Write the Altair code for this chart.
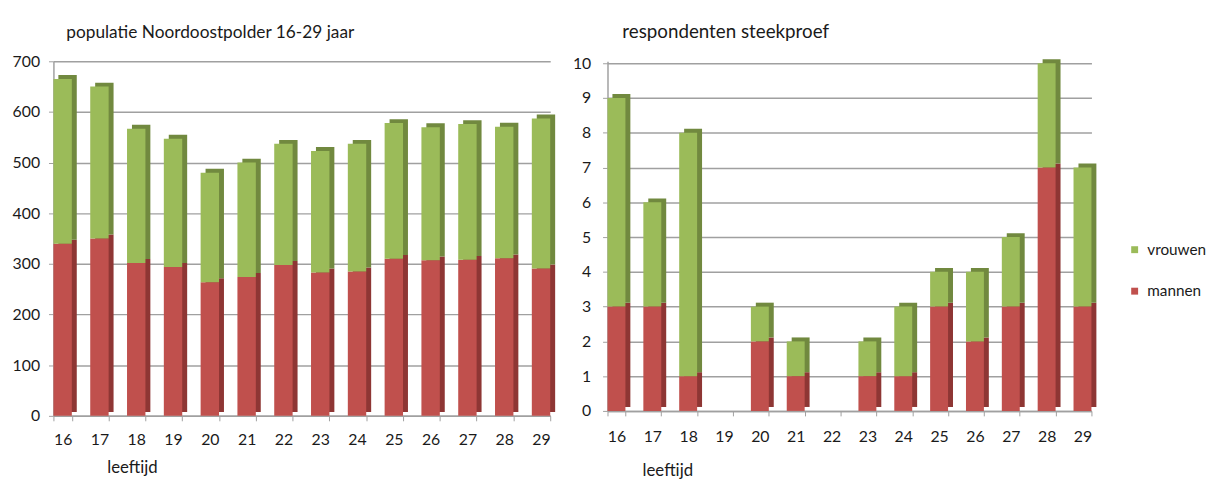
import altair as alt
import pandas as pd

# ---- data ----
leeftijden = ["16", "17", "18", "19", "20", "21", "22", "23", "24", "25", "26", "27", "28", "29"]
series = ["vrouwen", "mannen"]

pop_mannen = [340, 350, 302, 294, 264, 274, 298, 283, 285, 310, 307, 308, 311, 291]
pop_vrouwen = [325, 300, 265, 253, 216, 226, 239, 240, 252, 268, 263, 268, 260, 296]

resp_mannen = [3, 3, 1, 0, 2, 1, 0, 1, 1, 3, 2, 3, 7, 3]
resp_vrouwen = [6, 3, 7, 0, 1, 1, 0, 1, 2, 1, 2, 2, 3, 4]

pop_ticks = [0, 100, 200, 300, 400, 500, 600, 700]
resp_ticks = [0, 1, 2, 3, 4, 5, 6, 7, 8, 9, 10]

GREEN = "#9bbb59"
RED = "#c0504d"
DKGREEN = "#71893f"
DKRED = "#8e3634"
GRID = "#a0a0a0"
TXT = "#1a1a1a"
FONT = "Lato"


def long_df(mannen, vrouwen):
    rows = []
    for a, m, v in zip(leeftijden, mannen, vrouwen):
        rows.append({"leeftijd": a, "geslacht": "mannen", "aantal": m, "volgorde": 0})
        rows.append({"leeftijd": a, "geslacht": "vrouwen", "aantal": v, "volgorde": 1})
    return pd.DataFrame(rows)


def panel(df, ymax, yvals, title, w, h, title_dx, title_offset, title_size,
          ax_title_x, ax_title_y, x_lab_pad, y_lab_pad, y_extent, legend):
    x = alt.X(
        "leeftijd:N",
        sort=leeftijden,
        scale=alt.Scale(paddingInner=0.5, paddingOuter=0),
        axis=alt.Axis(
            labelAngle=0,
            title="leeftijd",
            titleAnchor="start",
            titleAlign="left",
            titleBaseline="middle",
            titleX=ax_title_x,
            titleY=ax_title_y,
            titleFontWeight="normal",
            titleFontSize=17,
            titleFont=FONT,
            titleColor=TXT,
            labelFont=FONT,
            labelFontSize=16,
            labelColor=TXT,
            labelPadding=x_lab_pad,
            tickBand="extent",
            tickSize=5,
            tickColor=GRID,
            domainColor=GRID,
            domainWidth=1.5,
            grid=False,
        ),
    )
    y = alt.Y(
        "aantal:Q",
        stack="zero",
        scale=alt.Scale(domain=[0, ymax], nice=False),
        axis=alt.Axis(
            values=yvals,
            title=None,
            grid=True,
            gridColor=GRID,
            gridWidth=1.5,
            domainColor=GRID,
            domainWidth=1.5,
            tickColor=GRID,
            tickSize=5,
            labelPadding=y_lab_pad,
            labelFont=FONT,
            labelFontSize=16,
            labelColor=TXT,
            minExtent=y_extent,
            maxExtent=y_extent,
        ),
    )
    order = alt.Order("volgorde:Q")
    shadow = alt.Chart(df).mark_bar(xOffset=5, yOffset=-4).encode(
        x=x,
        y=y,
        order=order,
        detail="geslacht:N",
        color=alt.condition(alt.datum.geslacht == "mannen", alt.value(DKRED), alt.value(DKGREEN)),
    )
    front = alt.Chart(df).mark_bar().encode(
        x=x,
        y=y,
        order=order,
        color=alt.Color(
            "geslacht:N",
            scale=alt.Scale(domain=series, range=[GREEN, RED]),
            legend=legend,
        ),
    )
    return alt.layer(shadow, front).properties(
        width=w,
        height=h,
        title=alt.TitleParams(
            text=title,
            anchor="start",
            frame="group",
            baseline="middle",
            dx=title_dx,
            offset=title_offset,
            font=FONT,
            fontSize=title_size,
            fontWeight="normal",
            color=TXT,
        ),
    )


left = panel(
    long_df(pop_mannen, pop_vrouwen), 700, pop_ticks,
    "populatie Noordoostpolder 16-29 jaar", 503, 359,
    13, 3, 17.5, 54, 52, 11, 9, 42, None,
)

right_legend = alt.Legend(
    orient="none",
    legendX=526,
    legendY=183,
    title=None,
    symbolType="square",
    symbolSize=49,
    symbolStrokeWidth=0,
    labelFont=FONT,
    labelFontSize=15.5,
    labelColor=TXT,
    rowPadding=25,
    labelOffset=5,
)

right = panel(
    long_df(resp_mannen, resp_vrouwen), 10.057, resp_ticks,
    "respondenten steekproef", 490, 354,
    15, 5, 19, 35, 60, 13, 12, 36, right_legend,
)

chart = (
    alt.hconcat(left, right, spacing=17)
    .resolve_scale(color="independent")
    .properties(padding={"left": 4, "top": 12, "right": 0, "bottom": 0}, background="white")
    .configure_view(stroke=None)
)

chart.save("out.html", embed_options={"renderer": "svg", "actions": False})
